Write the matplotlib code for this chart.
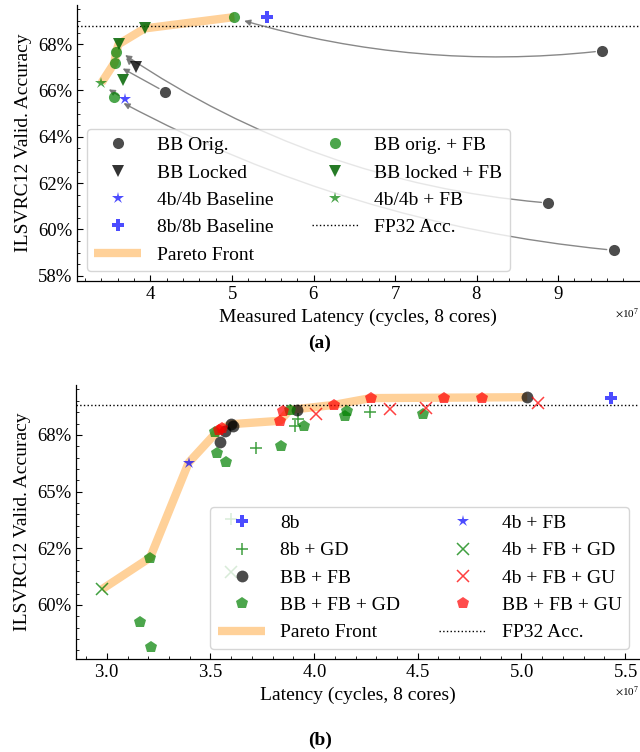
import matplotlib
matplotlib.use("Agg")
import matplotlib.pyplot as plt
from matplotlib.lines import Line2D
from matplotlib.ticker import AutoMinorLocator, MultipleLocator, FormatStrFormatter, ScalarFormatter

plt.rcParams.update({
    "font.family": "serif",
    "font.serif": ["Liberation Serif", "DejaVu Serif"],
    "mathtext.fontset": "stix",
    "axes.linewidth": 0.9,
})

FP32_ACC = 68.8

# ---- (a) measured latency on 8 cores ----
bb_orig_x = [9.54e7, 8.88e7, 9.68e7, 4.18e7]
bb_orig_y = [67.71, 61.14, 59.10, 65.94]
bb_locked_x = [3.82e7]
bb_locked_y = [67.02]
base4_x = [3.69e7]
base4_y = [65.62]
base8_x = [5.43e7]
base8_y = [69.17]
orig_fb_x = [5.03e7, 3.58e7, 3.56e7, 3.55e7]
orig_fb_y = [69.17, 67.67, 67.20, 65.70]
locked_fb_x = [3.93e7, 3.61e7, 3.67e7]
locked_fb_y = [68.68, 68.00, 66.45]
fb4_x = [3.40e7]
fb4_y = [66.33]
pareto_a_x = [3.40e7, 3.56e7, 3.58e7, 3.61e7, 3.93e7, 5.03e7]
pareto_a_y = [66.33, 67.20, 67.67, 68.00, 68.68, 69.17]

# arrows: start point, arrow tip, curvature
arrow_src_x = [9.54e7, 8.88e7, 9.68e7, 4.18e7, 3.69e7, 3.82e7]
arrow_src_y = [67.71, 61.14, 59.10, 65.94, 65.62, 67.02]
arrow_dst_x = [5.15e7, 3.69e7, 3.67e7, 3.66e7, 3.49e7, 3.70e7]
arrow_dst_y = [69.01, 67.53, 65.45, 66.95, 66.05, 67.40]
arrow_rad = [-0.10, -0.13, -0.10, 0.0, 0.0, 0.0]

# ---- (b) latency with gradient descent / gradient update variants ----
b8_x = [5.43e7]
b8_y = [69.12]
b8gd_x = [3.72e7, 3.907e7, 3.923e7, 4.268e7, 3.60e7]
b8gd_y = [66.91, 67.91, 68.20, 68.50, 63.78]
bbfb_x = [3.546e7, 3.57e7, 3.60e7, 3.61e7, 3.918e7, 5.028e7]
bbfb_y = [67.18, 67.65, 67.97, 67.87, 68.60, 69.16]
bbfbgd_x = [3.52e7, 3.53e7, 3.575e7, 3.84e7, 3.883e7, 3.95e7, 4.15e7, 4.16e7,
            4.525e7, 3.209e7, 3.16e7, 3.212e7]
bbfbgd_y = [67.62, 66.69, 66.32, 67.01, 68.60, 67.91, 68.34, 68.53,
            68.43, 62.09, 59.26, 58.16]
b4fb_x = [3.395e7]
b4fb_y = [66.28]
b4fbgd_x = [2.976e7, 3.60e7]
b4fbgd_y = [60.69, 61.47]
b4fbgu_x = [4.01e7, 4.365e7, 4.54e7, 5.08e7]
b4fbgu_y = [68.43, 68.65, 68.70, 68.92]
bbfbgu_x = [3.54e7, 3.555e7, 3.835e7, 3.85e7, 4.095e7, 4.273e7, 4.628e7, 4.811e7]
bbfbgu_y = [67.72, 67.80, 68.12, 68.53, 68.82, 69.12, 69.12, 69.12]
pareto_b_x = [2.976e7, 3.209e7, 3.395e7, 3.54e7, 3.60e7, 3.835e7, 3.883e7,
              4.095e7, 4.273e7, 5.028e7]
pareto_b_y = [60.69, 62.09, 66.28, 67.72, 67.97, 68.12, 68.60,
              68.82, 69.12, 69.16]

PARETO = dict(color="darkorange", alpha=0.4, lw=6, solid_capstyle="butt", zorder=1)
FP32 = dict(color="black", ls=":", lw=1.0, zorder=1.5)
LEG = dict(fontsize=14, handlelength=2.4, framealpha=0.8, edgecolor="0.8")


def style_axes(ax, ymajor, yminor):
    ax.spines["top"].set_visible(False)
    ax.spines["right"].set_visible(False)
    ax.tick_params(which="both", direction="in", top=False, right=False)
    ax.tick_params(which="major", length=4, width=0.8, labelsize=13.5)
    ax.tick_params(which="minor", length=2, width=0.6)
    ax.xaxis.set_minor_locator(AutoMinorLocator(5))
    ax.yaxis.set_major_locator(MultipleLocator(ymajor))
    ax.yaxis.set_minor_locator(MultipleLocator(yminor))
    ax.yaxis.set_major_formatter(FormatStrFormatter("%.0f%%"))
    fmt = ScalarFormatter(useMathText=True)
    fmt.set_powerlimits((7, 7))
    ax.xaxis.set_major_formatter(fmt)
    ax.xaxis.get_offset_text().set_fontsize(8)
    ax.set_ylabel("ILSVRC12 Valid. Accuracy", fontsize=14)


fig = plt.figure(figsize=(6.4, 7.52), dpi=100)
ax1 = fig.add_axes([0.1203, 0.6263, 0.8780, 0.3670])
ax2 = fig.add_axes([0.1190, 0.1237, 0.8793, 0.3644])

# ---------------- (a) ----------------
ax1.plot(pareto_a_x, pareto_a_y, **PARETO)
ax1.axhline(FP32_ACC, **FP32)
for sx, sy, dx, dy, rad in zip(arrow_src_x, arrow_src_y, arrow_dst_x, arrow_dst_y, arrow_rad):
    ax1.annotate("", xy=(dx, dy), xytext=(sx, sy), zorder=2,
                 arrowprops=dict(arrowstyle="-|>", color="0.45", lw=1.0, alpha=0.85,
                                 mutation_scale=9, shrinkA=5, shrinkB=0,
                                 connectionstyle=f"arc3,rad={rad}"))

h_orig, = ax1.plot(bb_orig_x, bb_orig_y, "o", color="black", alpha=0.7, ms=8, mew=0, zorder=3)
h_lock, = ax1.plot(bb_locked_x, bb_locked_y, "v", color="black", alpha=0.8, ms=9, mew=0, zorder=3)
h_b4, = ax1.plot(base4_x, base4_y, "*", color="blue", alpha=0.7, ms=9, mew=0, zorder=3)
h_b8, = ax1.plot(base8_x, base8_y, "P", color="blue", alpha=0.7, ms=8.5, mew=0, zorder=3)
h_ofb, = ax1.plot(orig_fb_x, orig_fb_y, "o", color="green", alpha=0.7, ms=8, mew=0, zorder=3)
h_lfb, = ax1.plot(locked_fb_x, locked_fb_y, "v", color="darkgreen", alpha=0.85, ms=9, mew=0, zorder=3)
h_f4, = ax1.plot(fb4_x, fb4_y, "*", color="green", alpha=0.7, ms=9, mew=0, zorder=3)
h_par = Line2D([], [], **{k: v for k, v in PARETO.items() if k != "zorder"})
h_fp = Line2D([], [], **{k: v for k, v in FP32.items() if k != "zorder"})

ax1.legend([h_orig, h_lock, h_b4, h_b8, h_par, h_ofb, h_lfb, h_f4, h_fp],
           ["BB Orig.", "BB Locked", "4b/4b Baseline", "8b/8b Baseline", "Pareto Front",
            "BB orig. + FB", "BB locked + FB", "4b/4b + FB", "FP32 Acc."],
           loc="lower left", ncol=2, **LEG)

ax1.set_xlim(3.1e7, 9.99e7)
ax1.set_ylim(57.77, 69.69)
ax1.xaxis.set_major_locator(MultipleLocator(1e7))
style_axes(ax1, 2, 0.5)
ax1.set_xlabel("Measured Latency (cycles, 8 cores)", fontsize=14)

# ---------------- (b) ----------------
ax2.plot(pareto_b_x, pareto_b_y, **PARETO)
ax2.axhline(FP32_ACC, **FP32)
g8, = ax2.plot(b8_x, b8_y, "P", color="blue", alpha=0.7, ms=8.5, mew=0, zorder=3)
g8gd, = ax2.plot(b8gd_x, b8gd_y, "+", color="green", alpha=0.75, ms=9, mew=1.1, zorder=3)
gbb, = ax2.plot(bbfb_x, bbfb_y, "o", color="black", alpha=0.7, ms=8.5, mew=0, zorder=3)
gbbgd, = ax2.plot(bbfbgd_x, bbfbgd_y, "p", color="green", alpha=0.7, ms=9, mew=0, zorder=3)
g4, = ax2.plot(b4fb_x, b4fb_y, "*", color="blue", alpha=0.7, ms=9, mew=0, zorder=3)
g4gd, = ax2.plot(b4fbgd_x, b4fbgd_y, "x", color="green", alpha=0.75, ms=8, mew=1.1, zorder=3)
g4gu, = ax2.plot(b4fbgu_x, b4fbgu_y, "x", color="red", alpha=0.75, ms=8, mew=1.1, zorder=3)
gbbgu, = ax2.plot(bbfbgu_x, bbfbgu_y, "p", color="red", alpha=0.7, ms=9, mew=0, zorder=3)

ax2.legend([g8, g8gd, gbb, gbbgd, h_par, g4, g4gd, g4gu, gbbgu, h_fp],
           ["8b", "8b + GD", "BB + FB", "BB + FB + GD", "Pareto Front",
            "4b + FB", "4b + FB + GD", "4b + FB + GU", "BB + FB + GU", "FP32 Acc."],
           loc="lower right", ncol=2, **LEG)

ax2.set_xlim(2.852e7, 5.567e7)
ax2.set_ylim(57.62, 69.70)
ax2.xaxis.set_major_locator(MultipleLocator(0.5e7))
style_axes(ax2, 2.5, 0.5)
ax2.set_xlabel("Latency (cycles, 8 cores)", fontsize=14)

fig.text(0.5, 1 - 343 / 752, "(a)", ha="center", va="center", fontsize=14, fontweight="bold")
fig.text(0.5, 1 - 740 / 752, "(b)", ha="center", va="center", fontsize=14, fontweight="bold")

fig.savefig("out.png", dpi=100)
